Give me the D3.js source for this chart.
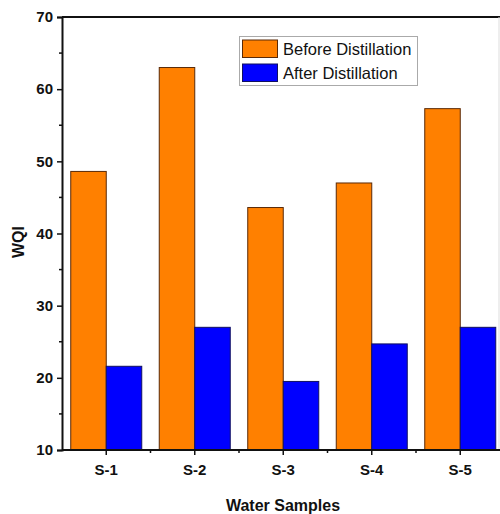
<!DOCTYPE html>
<html><head><meta charset="utf-8">
<script src="https://cdn.jsdelivr.net/npm/d3@7"></script>
<style>body{margin:0;background:#fff}svg{display:block}</style>
</head><body>
<svg id="c" width="500" height="514"></svg>
<script>
const categories = ["S-1","S-2","S-3","S-4","S-5"];
const seriesNames = ["Before Distillation","After Distillation"];
const before = [48.6, 63.0, 43.6, 47.0, 57.3];
const after = [21.6, 27.0, 19.5, 24.7, 27.0];
const yTicks = [10,20,30,40,50,60,70];
const colors = ["#FF8000","#0000FF"];
const strokes = ["#5a2a08","#101060"];

const svg = d3.select("#c");
const L = 62, R = 504.5, T = 17, B = 450;
const x = d3.scaleBand().domain(categories).range([L, R]).padding(0);
const y = d3.scaleLinear().domain([10,70]).range([B, T]);
const barW = 35.5;

// bars
const data = categories.map((c,i)=>({c, v:[before[i], after[i]]}));
const g = svg.append("g");
data.forEach(d=>{
  const cx = x(d.c) + x.bandwidth()/2;
  d.v.forEach((v,j)=>{
    g.append("rect")
      .attr("x", cx - barW + j*barW)
      .attr("y", y(v))
      .attr("width", barW)
      .attr("height", B - y(v))
      .attr("fill", colors[j])
      .attr("stroke", strokes[j])
      .attr("stroke-width", 1);
  });
});

// frame top/right
svg.append("line").attr("x1",L).attr("x2",500).attr("y1",T).attr("y2",T).attr("stroke","#111").attr("stroke-width",2);
svg.append("line").attr("x1",499).attr("x2",499).attr("y1",T).attr("y2",B).attr("stroke","#ddd").attr("stroke-width",1);

// y axis
const yAxis = d3.axisLeft(y).tickValues(yTicks).tickSize(5).tickPadding(4).tickFormat(d3.format("d"));
const ya = svg.append("g").attr("transform",`translate(${L},0)`).call(yAxis);
ya.select(".domain").attr("stroke","#111").attr("stroke-width",2);
ya.selectAll(".tick line").attr("stroke","#111").attr("stroke-width",1.5);
ya.selectAll("text").attr("font-family","Liberation Sans, Arial, sans-serif").attr("font-weight","bold").attr("font-size",15).attr("fill","#111");
// minor y ticks
const yMinor = yTicks.slice(0,-1).map(t=>t+5);
svg.append("g").selectAll("line").data(yMinor).join("line")
  .attr("x1",L-3).attr("x2",L).attr("y1",d=>y(d)).attr("y2",d=>y(d)).attr("stroke","#111").attr("stroke-width",1.5);

// x axis
const xAxis = d3.axisBottom(x).tickSize(5).tickPadding(9);
const xa = svg.append("g").attr("transform",`translate(0,${B})`).call(xAxis);
xa.select(".domain").attr("stroke","#111").attr("stroke-width",2).attr("d",`M${L},0H500`);
xa.selectAll(".tick line").attr("stroke","#111").attr("stroke-width",1.5);
xa.selectAll("text").attr("font-family","Liberation Sans, Arial, sans-serif").attr("font-weight","bold").attr("font-size",15).attr("fill","#111");
// minor x ticks (between categories)
const xMinor = categories.slice(1).map(c=>x(c));
svg.append("g").selectAll("line").data(xMinor).join("line")
  .attr("x1",d=>d).attr("x2",d=>d).attr("y1",B).attr("y2",B+3).attr("stroke","#111").attr("stroke-width",1.5);

// axis titles
svg.append("text").attr("x",283).attr("y",511).attr("text-anchor","middle")
  .attr("font-family","Liberation Sans, Arial, sans-serif").attr("font-weight","bold").attr("font-size",16).attr("fill","#111")
  .text("Water Samples");
svg.append("text").attr("transform","translate(24,242) rotate(-90)").attr("text-anchor","middle")
  .attr("font-family","Liberation Sans, Arial, sans-serif").attr("font-weight","bold").attr("font-size",16).attr("fill","#111")
  .text("WQI");

// legend
const lg = svg.append("g");
lg.append("rect").attr("x",239.5).attr("y",36.5).attr("width",178).attr("height",49).attr("fill","#fff").attr("stroke","#aaa").attr("stroke-width",1);
seriesNames.forEach((n,i)=>{
  const yy = 40 + i*24;
  lg.append("rect").attr("x",242.5).attr("y",yy).attr("width",35).attr("height",17.5)
    .attr("fill",colors[i]).attr("stroke",strokes[i]).attr("stroke-width",1);
  lg.append("text").attr("x",283).attr("y",yy+14.5)
    .attr("font-family","Liberation Sans, Arial, sans-serif").attr("font-size",16.5).attr("fill","#111").text(n);
});
</script>
</body></html>
